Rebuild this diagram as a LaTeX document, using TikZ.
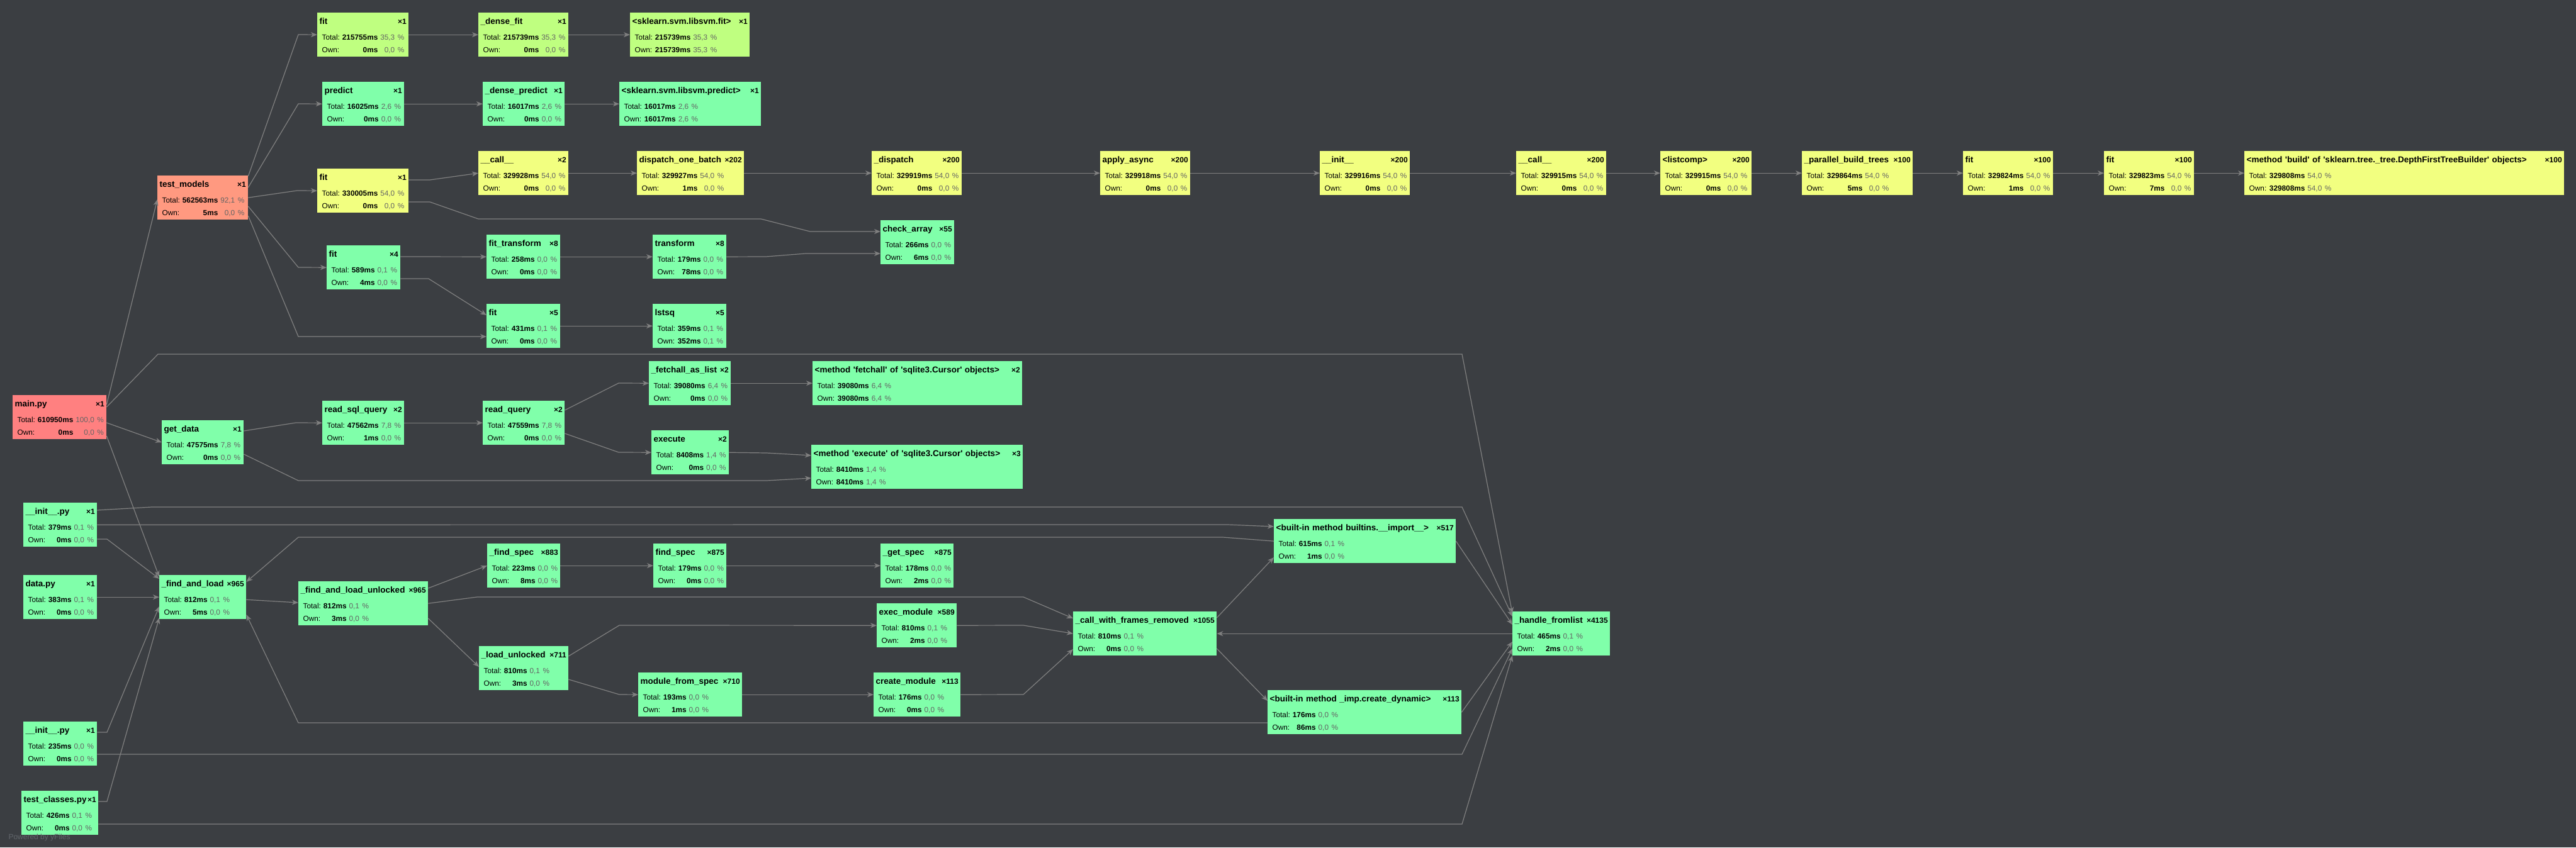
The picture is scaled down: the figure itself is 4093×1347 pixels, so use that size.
\documentclass[tikz,border=0pt]{standalone}
\usepackage{fontspec}
\setmainfont{Liberation Sans}
\usepackage{xcolor}
\usetikzlibrary{arrows.meta}
\definecolor{cbg}{RGB}{59,62,66}
\definecolor{cedge}{RGB}{128,128,128}
\definecolor{cred}{RGB}{255,128,128}
\definecolor{csalmon}{RGB}{255,153,128}
\definecolor{clime}{RGB}{191,255,128}
\definecolor{cyellow}{RGB}{242,255,128}
\definecolor{cgreen}{RGB}{128,255,170}
\definecolor{cpct}{RGB}{100,100,100}
\definecolor{cwater}{RGB}{98,102,107}
\newcommand\sq{\textquotesingle}
% title, count, total, total %, own, own %
\newcommand\calltext[6]{%
  \noindent\rule{0pt}{18pt}\textbf{#1}\hfill{\fontsize{12}{20}\selectfont\textbf{×#2}}\par
  \vspace{5pt}\noindent\hspace*{4pt}{\fontsize{11.8}{20}\selectfont
  \begin{tabular}[t]{@{}l@{\hspace{4pt}}r@{\hspace{4pt}}r@{}}
    Total: & \textbf{#3ms} & \textcolor{cpct}{#4 \%}\\
    Own: & \textbf{#5ms} & \textcolor{cpct}{#6 \%}
  \end{tabular}}}
\tikzstyle{every node}=[font=\fontsize{13.5}{20}\selectfont]
\tikzstyle{block} = [rectangle, fill=cgreen, anchor=north west, inner xsep=3.5pt, inner ysep=0pt, minimum height=70pt, text=black]
\tikzstyle{line} = [draw=cedge, line width=1.2pt, -{Stealth[length=10pt,width=8pt,inset=3pt]}]
\begin{document}
\begin{tikzpicture}[x=1pt, y=-1pt]
    \useasboundingbox (0,0) rectangle (4093,1347);
    \fill [cbg] (0,0) rectangle (4093,1347);
    % Place nodes
    \node [block, fill=clime, text width=138pt] (fitA) at (504,20) {\calltext{fit}{1}{215755}{35,3}{0}{0,0}};
    \node [block, fill=clime, text width=136pt] (densefit) at (760,20) {\calltext{\_dense\_fit}{1}{215739}{35,3}{0}{0,0}};
    \node [block, fill=clime, text width=183pt] (libfit) at (1001,20) {\calltext{<sklearn.svm.libsvm.fit>}{1}{215739}{35,3}{215739}{35,3}};
    \node [block, text width=123pt] (predict) at (512,130) {\calltext{predict}{1}{16025}{2,6}{0}{0,0}};
    \node [block, text width=123pt] (densepred) at (767,130) {\calltext{\_dense\_predict}{1}{16017}{2,6}{0}{0,0}};
    \node [block, text width=218pt] (libpred) at (984,130) {\calltext{<sklearn.svm.libsvm.predict>}{1}{16017}{2,6}{16017}{2,6}};
    \node [block, fill=csalmon, text width=137pt] (tm) at (250,279) {\calltext{test\_models}{1}{562563}{92,1}{5}{0,0}};
    \node [block, fill=cyellow, text width=138pt] (fitB) at (504,268) {\calltext{fit}{1}{330005}{54,0}{0}{0,0}};
    \node [block, fill=cyellow, text width=136pt] (callA) at (760,240) {\calltext{\_\_call\_\_}{2}{329928}{54,0}{0}{0,0}};
    \node [block, fill=cyellow, text width=163pt] (dispobatch) at (1012,240) {\calltext{dispatch\_one\_batch}{202}{329927}{54,0}{1}{0,0}};
    \node [block, fill=cyellow, text width=136pt] (dispatch) at (1385,240) {\calltext{\_dispatch}{200}{329919}{54,0}{0}{0,0}};
    \node [block, fill=cyellow, text width=136pt] (applyasync) at (1748,240) {\calltext{apply\_async}{200}{329918}{54,0}{0}{0,0}};
    \node [block, fill=cyellow, text width=136pt] (initA) at (2097,240) {\calltext{\_\_init\_\_}{200}{329916}{54,0}{0}{0,0}};
    \node [block, fill=cyellow, text width=136pt] (callB) at (2409,240) {\calltext{\_\_call\_\_}{200}{329915}{54,0}{0}{0,0}};
    \node [block, fill=cyellow, text width=138pt] (listcomp) at (2638,240) {\calltext{<listcomp>}{200}{329915}{54,0}{0}{0,0}};
    \node [block, fill=cyellow, text width=169pt] (pbt) at (2863,240) {\calltext{\_parallel\_build\_trees}{100}{329864}{54,0}{5}{0,0}};
    \node [block, fill=cyellow, text width=136pt] (fitC) at (3119,240) {\calltext{fit}{100}{329824}{54,0}{1}{0,0}};
    \node [block, fill=cyellow, text width=136pt] (fitD) at (3343,240) {\calltext{fit}{100}{329823}{54,0}{7}{0,0}};
    \node [block, fill=cyellow, text width=501pt] (build) at (3566,240) {\calltext{<method \sq build\sq\ of \sq sklearn.tree.\_tree.DepthFirstTreeBuilder\sq\ objects>}{100}{329808}{54,0}{329808}{54,0}};
    \node [block, text width=110pt] (checkarray) at (1399,350) {\calltext{check\_array}{55}{266}{0,0}{6}{0,0}};
    \node [block, text width=110pt] (fitE) at (519,390) {\calltext{fit}{4}{589}{0,1}{4}{0,0}};
    \node [block, text width=110pt] (fittransform) at (773,373) {\calltext{fit\_transform}{8}{258}{0,0}{0}{0,0}};
    \node [block, text width=110pt] (transform) at (1037,373) {\calltext{transform}{8}{179}{0,0}{78}{0,0}};
    \node [block, text width=110pt] (fitF) at (773,483) {\calltext{fit}{5}{431}{0,1}{0}{0,0}};
    \node [block, text width=110pt] (lstsq) at (1037,483) {\calltext{lstsq}{5}{359}{0,1}{352}{0,1}};
    \node [block, fill=cred, text width=142pt] (mainpy) at (20,628) {\calltext{main.py}{1}{610950}{100,0}{0}{0,0}};
    \node [block, text width=123pt] (getdata) at (257,668) {\calltext{get\_data}{1}{47575}{7,8}{0}{0,0}};
    \node [block, text width=123pt] (readsql) at (512,637) {\calltext{read\_sql\_query}{2}{47562}{7,8}{1}{0,0}};
    \node [block, text width=123pt] (readquery) at (767,637) {\calltext{read\_query}{2}{47559}{7,8}{0}{0,0}};
    \node [block, text width=123pt] (fetchall) at (1031,574) {\calltext{\_fetchall\_as\_list}{2}{39080}{6,4}{0}{0,0}};
    \node [block, text width=326pt] (mfetchall) at (1291,574) {\calltext{<method \sq fetchall\sq\ of \sq sqlite3.Cursor\sq\ objects>}{2}{39080}{6,4}{39080}{6,4}};
    \node [block, text width=116pt] (execute) at (1035,684) {\calltext{execute}{2}{8408}{1,4}{0}{0,0}};
    \node [block, text width=329pt] (mexecute) at (1289,707) {\calltext{<method \sq execute\sq\ of \sq sqlite3.Cursor\sq\ objects>}{3}{8410}{1,4}{8410}{1,4}};
    \node [block, text width=110pt] (initpyA) at (37,799) {\calltext{\_\_init\_\_.py}{1}{379}{0,1}{0}{0,0}};
    \node [block, text width=110pt] (datapy) at (37,914) {\calltext{data.py}{1}{383}{0,1}{0}{0,0}};
    \node [block, text width=110pt] (initpyB) at (37,1147) {\calltext{\_\_init\_\_.py}{1}{235}{0,0}{0}{0,0}};
    \node [block, text width=115pt] (testclasses) at (34,1257) {\calltext{test\_classes.py}{1}{426}{0,1}{0}{0,0}};
    \node [block, text width=131pt] (findload) at (253,914) {\calltext{\_find\_and\_load}{965}{812}{0,1}{5}{0,0}};
    \node [block, text width=199pt] (findloadun) at (474,924) {\calltext{\_find\_and\_load\_unlocked}{965}{812}{0,1}{3}{0,0}};
    \node [block, text width=109pt] (findspecA) at (774,864) {\calltext{\_find\_spec}{883}{223}{0,0}{8}{0,0}};
    \node [block, text width=109pt] (findspecB) at (1038,864) {\calltext{find\_spec}{875}{179}{0,0}{0}{0,0}};
    \node [block, text width=109pt] (getspec) at (1399,864) {\calltext{\_get\_spec}{875}{178}{0,0}{2}{0,0}};
    \node [block, text width=120pt] (execmodule) at (1393,959) {\calltext{exec\_module}{589}{810}{0,1}{2}{0,0}};
    \node [block, text width=135pt] (loadun) at (761,1027) {\calltext{\_load\_unlocked}{711}{810}{0,1}{3}{0,0}};
    \node [block, text width=158pt] (modfromspec) at (1014,1069) {\calltext{module\_from\_spec}{710}{193}{0,0}{1}{0,0}};
    \node [block, text width=131pt] (createmod) at (1388,1069) {\calltext{create\_module}{113}{176}{0,0}{0}{0,0}};
    \node [block, text width=221pt] (callframes) at (1705,972) {\calltext{\_call\_with\_frames\_removed}{1055}{810}{0,1}{0}{0,0}};
    \node [block, text width=282pt] (bimport) at (2024,825) {\calltext{<built-in method builtins.\_\_import\_\_>}{517}{615}{0,1}{1}{0,0}};
    \node [block, text width=148pt] (handle) at (2403,972) {\calltext{\_handle\_fromlist}{4135}{465}{0,1}{2}{0,0}};
    \node [block, text width=301pt] (createdyn) at (2014,1097) {\calltext{<built-in method \_imp.create\_dynamic>}{113}{176}{0,0}{86}{0,0}};
    \node [anchor=west, text=cwater, font=\fontsize{12}{14}\selectfont] (credit) at (10,1331) {Powered by yFiles};
    % Draw edges
    \path [line] (tm.east |- 0,280) -- (474,55) -- (fitA.west);
    \path [line] (tm.east |- 0,298) -- (474,165) -- (predict.west);
    \path [line] (tm.east) -- (472,303) -- (fitB.west);
    \path [line] (tm.east |- 0,328) -- (474,425) -- (fitE.west);
    \path [line] (tm.east |- 0,343) -- (474,535) -- (fitF.west |- 0,535);
    \path [line] (fitA) -- (densefit);
    \path [line] (densefit) -- (libfit);
    \path [line] (predict) -- (densepred);
    \path [line] (densepred) -- (libpred);
    \path [line] (fitB.east |- 0,286) -- (683,286) -- (callA.west);
    \path [line] (fitB.east |- 0,321) -- (683,321) -- (760,348) -- (1209,348) -- (1287,368) -- (checkarray.west |- 0,368);
    \path [line] (callA) -- (dispobatch);
    \path [line] (dispobatch) -- (dispatch);
    \path [line] (dispatch) -- (applyasync);
    \path [line] (applyasync) -- (initA);
    \path [line] (initA) -- (callB);
    \path [line] (callB) -- (listcomp);
    \path [line] (listcomp) -- (pbt);
    \path [line] (pbt) -- (fitC);
    \path [line] (fitC) -- (fitD);
    \path [line] (fitD) -- (build);
    \path [line] (fitE.east |- 0,408) -- (fittransform.west);
    \path [line] (fitE.east |- 0,443) -- (681,443) -- (fitF.west |- 0,501);
    \path [line] (fittransform) -- (transform);
    \path [line] (transform.east) -- (1217,408) -- (1280,403) -- (checkarray.west |- 0,403);
    \path [line] (fitF) -- (lstsq);
    \path [line] (mainpy.east |- 0,643) -- (tm.west |- 0,317);
    \path [line] (mainpy.east |- 0,647) -- (251,563) -- (2323,563) -- (handle.west |- 0,975);
    \path [line] (mainpy.east |- 0,672) -- (getdata.west);
    \path [line] (mainpy.east |- 0,693) -- (findload.west |- 0,917);
    \path [line] (getdata.east |- 0,685) -- (470,672) -- (readsql.west);
    \path [line] (getdata.east |- 0,722) -- (474,764) -- (1218,764) -- (mexecute.west |- 0,760);
    \path [line] (readsql) -- (readquery);
    \path [line] (readquery.east |- 0,652) -- (983,609) -- (fetchall.west);
    \path [line] (readquery.east |- 0,689) -- (983,719) -- (execute.west);
    \path [line] (fetchall) -- (mfetchall.west |- fetchall);
    \path [line] (execute.east) -- (1218,720) -- (mexecute.west |- 0,724);
    \path [line] (initpyA.east |- 0,811) -- (241,806) -- (2323,806) -- (handle.west |- 0,980);
    \path [line] (initpyA.east) -- (1951,834) -- (bimport.west |- 0,837);
    \path [line] (initpyA.east |- 0,857) -- (170,857) -- (findload.west |- 0,920);
    \path [line] (datapy) -- (findload);
    \path [line] (initpyB.east |- 0,1164) -- (170,1164) -- (findload.west |- 0,964);
    \path [line] (testclasses.east |- 0,1274) -- (170,1274) -- (findload.west |- 0,982);
    \path [line] (bimport.west) -- (1943,854) -- (474,854) -- (findload.east |- 0,925);
    \path [line] (createdyn.west |- 0,1149) -- (474,1149) -- (findload.east |- 0,977);
    \path [line] (findload) -- (findloadun.west |- 0,958);
    \path [line] (findloadun.east |- 0,935) -- (findspecA.west);
    \path [line] (findloadun.east |- 0,983) -- (loadun.west |- 0,1060);
    \path [line] (findloadun.east) -- (758,949) -- (1626,949) -- (callframes.west |- 0,983);
    \path [line] (findspecA) -- (findspecB);
    \path [line] (findspecB) -- (getspec);
    \path [line] (loadun.east |- 0,1043) -- (984,994) -- (execmodule.west);
    \path [line] (loadun.east |- 0,1080) -- (984,1104) -- (modfromspec.west);
    \path [line] (execmodule.east) -- (1626,994) -- (callframes.west);
    \path [line] (modfromspec) -- (createmod);
    \path [line] (createmod.east) -- (1626,1104) -- (callframes.west |- 0,1032);
    \path [line] (callframes.east |- 0,982) -- (bimport.west |- 0,886);
    \path [line] (callframes.east |- 0,1031) -- (createdyn.west |- 0,1114);
    \path [line] (handle.west) -- (callframes.east);
    \path [line] (bimport.east) -- (handle.west |- 0,993);
    \path [line] (createdyn.east) -- (handle.west |- 0,1020);
    \path [line] (initpyB.east |- 0,1199) -- (2323,1199) -- (handle.west |- 0,1031);
    \path [line] (testclasses.east |- 0,1310) -- (2323,1310) -- (handle.west |- 0,1042);
\end{tikzpicture}
\end{document}
